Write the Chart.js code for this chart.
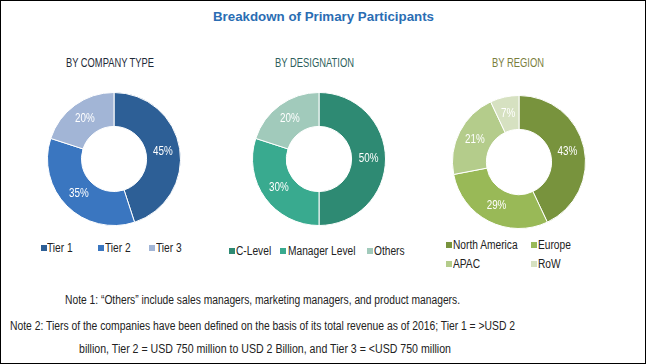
<!DOCTYPE html>
<html>
<head>
<meta charset="utf-8">
<script src="https://cdn.jsdelivr.net/npm/chart.js@4"></script>
<style>
html,body{margin:0;padding:0;background:#fff;}
#frame{position:absolute;left:0;top:0;width:646px;height:364px;box-sizing:border-box;border:1px solid #000;background:#fff;overflow:hidden;}
.t{position:absolute;white-space:nowrap;display:inline-block;transform-origin:0 0;line-height:16px;height:16px;}
.sq{position:absolute;width:6px;height:6px;}
canvas{position:absolute;}
</style>
</head>
<body>
<div id="frame"></div>
<script>
// ---- data ----
const chartTitle = 'Breakdown of Primary Participants';
const companyTitle = 'BY COMPANY TYPE';
const companyLabels = ['Tier 1', 'Tier 2', 'Tier 3'];
const companyValues = [45, 35, 20];
const designationTitle = 'BY DESIGNATION';
const designationLabels = ['C-Level', 'Manager Level', 'Others'];
const designationValues = [50, 30, 20];
const regionTitle = 'BY REGION';
const regionLabels = ['North America', 'Europe', 'APAC', 'RoW'];
const regionValues = [43, 29, 21, 7];
const notes = [
  'Note 1: \u201cOthers\u201d include sales managers, marketing managers, and product managers.',
  'Note 2: Tiers of the companies have been defined on the basis of its total revenue as of 2016; Tier 1 = >USD 2',
  'billion, Tier 2 = USD 750 million to USD 2 Billion, and Tier 3 = <USD 750 million'
];

// ---- styles ----
const companyColors = ['#2D5F96', '#3A76C0', '#A2B5D6'];
const designationColors = ['#2E8A73', '#39AA8F', '#A1CABB'];
const regionColors = ['#78933D', '#99B957', '#B4CC8B', '#D6E1C1'];
const FONT = '"Liberation Sans", Arial, sans-serif';

const frame = document.getElementById('frame');

// place text: cx = center x (or left if align 'left'), cy = vertical center
function placeText(txt, x, cy, size, color, opts) {
  opts = opts || {};
  const el = document.createElement('div');
  el.className = 't';
  el.textContent = txt;
  el.style.font = (opts.bold ? 'bold ' : '') + size + 'px ' + FONT;
  el.style.lineHeight = '16px';
  el.style.color = color;
  frame.appendChild(el);
  const w = el.getBoundingClientRect().width;
  let sx = opts.scale || 1;
  if (opts.width) sx = opts.width / w;
  const finalW = w * sx;
  el.style.transform = 'scaleX(' + sx + ')';
  el.style.left = (opts.align === 'left' ? x : x - finalW / 2) + 'px';
  el.style.top = (cy - 8) + 'px';
  return el;
}

placeText(chartTitle, 322, 16, 13, '#2A6DB3', { bold: true, width: 221 });
placeText(companyTitle, 109, 62, 13, '#1E2A38', { width: 88 });
placeText(designationTitle, 313.5, 62, 13, '#2E5F5C', { width: 79 });
placeText(regionTitle, 517, 62, 13, '#7A7E3C', { width: 52 });
placeText(notes[0], 261, 299, 12.5, '#222', { width: 395 });
placeText(notes[1], 261, 325, 12.5, '#222', { width: 505 });
placeText(notes[2], 264, 347.5, 12.5, '#222', { width: 372 });

const pctLabels = {
  id: 'pctLabels',
  afterDatasetsDraw(chart) {
    const ctx = chart.ctx;
    const meta = chart.getDatasetMeta(0);
    const data = chart.data.datasets[0].data;
    ctx.fillStyle = '#ffffff';
    ctx.font = '12px ' + FONT;
    ctx.textAlign = 'center';
    ctx.textBaseline = 'middle';
    meta.data.forEach((arc, i) => {
      const p = arc.tooltipPosition();
      ctx.save();
      ctx.translate(p.x, p.y);
      ctx.scale(0.82, 1);
      ctx.fillText(data[i] + '%', 0, 0);
      ctx.restore();
    });
  }
};

function makeDonut(left, top, labels, values, colors) {
  const cv = document.createElement('canvas');
  cv.width = 134; cv.height = 134;
  cv.style.left = left + 'px';
  cv.style.top = top + 'px';
  frame.appendChild(cv);
  return new Chart(cv, {
    type: 'doughnut',
    data: { labels: labels, datasets: [{ data: values, backgroundColor: colors, borderColor: '#ffffff', borderWidth: 1 }] },
    options: {
      responsive: false,
      devicePixelRatio: 1,
      animation: false,
      cutout: '49%',
      layout: { padding: 0 },
      plugins: { legend: { display: false }, tooltip: { enabled: false } }
    },
    plugins: [pctLabels]
  });
}
makeDonut(46, 91, companyLabels, companyValues, companyColors);
makeDonut(251, 91, designationLabels, designationValues, designationColors);
makeDonut(451, 94, regionLabels, regionValues, regionColors);

// ---- legends: [square left, text left, center y] ----
const legendSpots = [
  { labels: companyLabels, colors: companyColors, pos: [[40, 46, 247], [97, 104, 247], [148, 155, 247]] },
  { labels: designationLabels, colors: designationColors, pos: [[228, 235, 250], [279, 287, 250], [366, 373, 250]] },
  { labels: regionLabels, colors: regionColors, pos: [[445, 452, 243.5], [530, 537, 243.5], [445, 452, 263], [530, 537, 263]] }
];
legendSpots.forEach(g => {
  g.labels.forEach((lab, i) => {
    const [sx, tx, cy] = g.pos[i];
    const sq = document.createElement('div');
    sq.className = 'sq';
    sq.style.left = sx + 'px';
    sq.style.top = (cy - 3) + 'px';
    sq.style.background = g.colors[i];
    frame.appendChild(sq);
    placeText(lab, tx, cy, 12, '#222', { align: 'left', scale: 0.85 });
  });
});
</script>
</body>
</html>
